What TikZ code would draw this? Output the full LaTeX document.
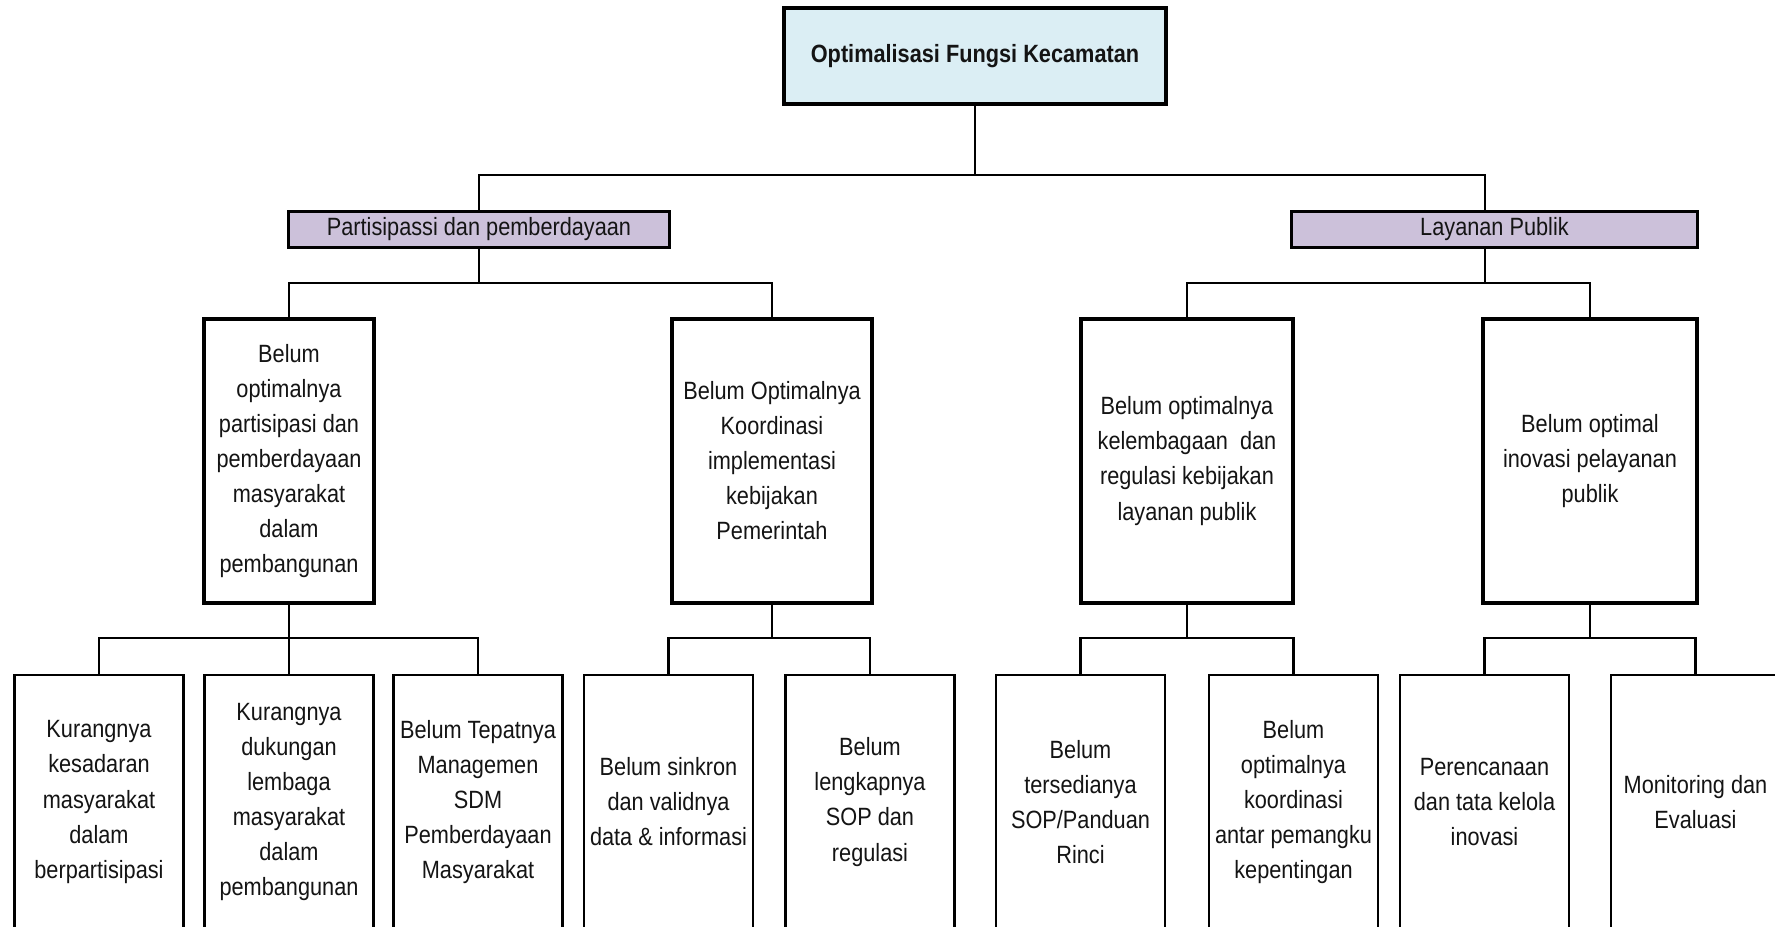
\documentclass[tikz,border=0pt]{standalone}
\usepackage{fontspec}
\setmainfont{Liberation Sans}[FakeStretch=0.87]
\usepackage{xcolor}
\usepackage{tikz}

\definecolor{birumuda}{RGB}{219,238,244}
\definecolor{ungumuda}{RGB}{204,193,218}
\definecolor{tinta}{RGB}{20,20,20}

\begin{document}
\begin{tikzpicture}[x=0.01cm, y=-0.01cm,
    teks/.style={font=\fontsize{7.1pt}{9.96pt}\selectfont, align=center, text=tinta, inner sep=0pt},
    topbox/.style={teks, draw, line width=1pt, fill=birumuda, minimum width=3.82cm, minimum height=0.96cm, font=\fontsize{7.1pt}{9.96pt}\selectfont\bfseries},
    grupbox/.style={teks, draw, line width=0.9pt, fill=ungumuda, minimum height=0.36cm},
    masalahbox/.style={teks, draw, line width=1pt, fill=white, minimum height=2.84cm},
    sebabbox/.style={teks, draw, line width=0.7pt, fill=white, minimum width=1.69cm, minimum height=2.54cm},
    garis/.style={line width=0.7pt}]
    \useasboundingbox[fill=white] (0,0) rectangle (1775,926);
    \clip (0,0) rectangle (1775,926);

    % puncak
    \node[topbox] (top) at (975,56) {Optimalisasi Fungsi Kecamatan};

    % kelompok
    \node[grupbox, minimum width=3.80cm] (partisipasi) at (479,229.5) {Partisipassi dan pemberdayaan};
    \node[grupbox, minimum width=4.05cm] (layanan) at (1494.5,229.5) {Layanan Publik};
    \coordinate (lj) at (1485,0);

    % masalah
    \node[masalahbox, minimum width=1.70cm] (m1) at (289,461) {Belum\\optimalnya\\partisipasi dan\\pemberdayaan\\masyarakat\\dalam\\pembangunan};
    \node[masalahbox, minimum width=2.00cm] (m2) at (772,461) {Belum Optimalnya\\Koordinasi\\implementasi\\kebijakan\\Pemerintah};
    \node[masalahbox, minimum width=2.12cm] (m3) at (1187,461) {Belum optimalnya\\kelembagaan\ \ dan\\regulasi kebijakan\\layanan publik};
    \node[masalahbox, minimum width=2.14cm] (m4) at (1590,461) {Belum optimal\\inovasi pelayanan\\publik};

    % penyebab
    \node[sebabbox] (s1) at (99,802) {Kurangnya\\kesadaran\\masyarakat\\dalam\\berpartisipasi};
    \node[sebabbox] (s2) at (289,802) {Kurangnya\\dukungan\\lembaga\\masyarakat\\dalam\\pembangunan};
    \node[sebabbox] (s3) at (478,802) {Belum Tepatnya\\Managemen\\SDM\\Pemberdayaan\\Masyarakat};
    \node[sebabbox] (s4) at (668.5,802) {Belum sinkron\\dan validnya\\data \& informasi};
    \node[sebabbox] (s5) at (870,802) {Belum\\lengkapnya\\SOP dan\\regulasi};
    \node[sebabbox] (s6) at (1080.5,802) {Belum\\tersedianya\\SOP/Panduan\\Rinci};
    \node[sebabbox] (s7) at (1293.5,802) {Belum\\optimalnya\\koordinasi\\antar pemangku\\kepentingan};
    \node[sebabbox] (s8) at (1484.5,802) {Perencanaan\\dan tata kelola\\inovasi};
    \node[sebabbox] (s9) at (1695.5,802) {Monitoring dan\\Evaluasi};

    % garis penghubung
    \draw[garis] (top.south) -- (top.south |- 0,175);
    \draw[garis] (partisipasi.north) |- (top.south |- 0,175) -| (lj |- layanan.north);

    \draw[garis] (partisipasi.south) -- (partisipasi.south |- 0,283);
    \draw[garis] (m1.north) |- (partisipasi.south |- 0,283) -| (m2.north);
    \draw[garis] (lj |- layanan.south) -- (lj |- 0,283);
    \draw[garis] (m3.north) |- (lj |- 0,283) -| (m4.north);

    \draw[garis] (m1.south) -- (s2.north);
    \draw[garis] (s1.north) |- (m1.south |- 0,638) -| (s3.north);
    \draw[garis] (m2.south) -- (m2.south |- 0,638);
    \draw[garis] (s4.north) |- (m2.south |- 0,638) -| (s5.north);
    \draw[garis] (m3.south) -- (m3.south |- 0,638);
    \draw[garis] (s6.north) |- (m3.south |- 0,638) -| (s7.north);
    \draw[garis] (m4.south) -- (m4.south |- 0,638);
    \draw[garis] (s8.north) |- (m4.south |- 0,638) -| (s9.north);
\end{tikzpicture}
\end{document}
